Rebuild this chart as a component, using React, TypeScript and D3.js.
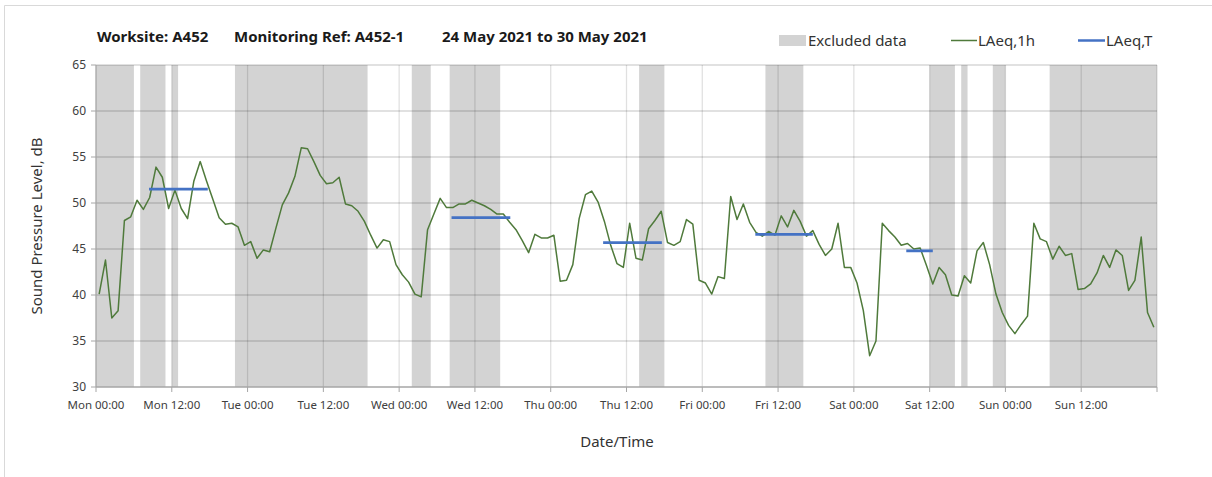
import React from 'react';
import * as d3 from 'd3';

// hourly LAeq,1h values, Mon 00:00 onwards (one per hour)
const laeq1h: number[] = [
  40.1, 43.8, 37.5, 38.3, 48.1, 48.5, 50.3, 49.3, 50.6, 53.9, 52.8, 49.4,
  51.4, 49.4, 48.3, 52.4, 54.5, 52.4, 50.4, 48.4, 47.7, 47.8, 47.4, 45.4,
  45.8, 44.0, 44.9, 44.7, 47.3, 49.8, 51.1, 52.9, 56.0, 55.9, 54.5, 53.0,
  52.1, 52.2, 52.8, 49.9, 49.7, 49.1, 48.0, 46.5, 45.1, 46.0, 45.8, 43.3,
  42.2, 41.4, 40.1, 39.8, 47.1, 48.8, 50.5, 49.5, 49.5, 49.9, 49.9, 50.3,
  50.0, 49.7, 49.3, 48.8, 48.8, 47.9, 47.1, 45.9, 44.6, 46.6, 46.2, 46.2,
  46.5, 41.5, 41.6, 43.3, 48.3, 50.9, 51.3, 50.1, 48.0, 45.4, 43.4, 43.0,
  47.8, 44.0, 43.8, 47.2, 48.1, 49.1, 45.7, 45.4, 45.8, 48.2, 47.7, 41.6,
  41.3, 40.1, 42.0, 41.8, 50.7, 48.2, 49.9, 47.9, 46.8, 46.4, 46.9, 46.5,
  48.6, 47.4, 49.2, 48.0, 46.4, 47.0, 45.5, 44.3, 45.0, 47.8, 43.0, 43.0,
  41.3, 38.3, 33.4, 35.0, 47.8, 47.0, 46.3, 45.4, 45.6, 45.0, 45.1, 43.2,
  41.2, 43.0, 42.2, 40.0, 39.9, 42.1, 41.3, 44.8, 45.7, 43.3, 40.1, 38.1,
  36.7, 35.8, 36.8, 37.7, 47.8, 46.1, 45.8, 43.9, 45.3, 44.3, 44.5, 40.6,
  40.7, 41.2, 42.4, 44.3, 43.0, 44.9, 44.3, 40.5, 41.6, 46.3, 38.1, 36.5,
];

// excluded periods, [start hour, end hour] from Mon 00:00
const excluded: [number, number][] = [
  [0, 6], [7, 11], [12, 13], [22, 43], [50, 53], [56, 64],
  [86, 90], [106, 112], [132, 136], [137, 138], [142, 144], [151, 168],
];

// LAeq,T daytime periods
const laeqTStart = [8.4, 56.3, 80.3, 104.4, 128.3];
const laeqTEnd = [17.7, 65.6, 89.6, 113.5, 132.5];
const laeqTValue = [51.5, 48.4, 45.7, 46.6, 44.8];

const dayNames = ['Mon', 'Tue', 'Wed', 'Thu', 'Fri', 'Sat', 'Sun'];
const xTickHours = d3.range(0, 169, 12);
const yTicks = [30, 35, 40, 45, 50, 55, 60, 65];

const W = 1212;
const H = 477;
const plot = { left: 96, right: 1157, top: 65, bottom: 387 };
const font = '"Noto Sans", "Open Sans", sans-serif';

const App: React.FC = () => {
  const x = d3.scaleLinear().domain([0, 168]).range([plot.left, plot.right]);
  const y = d3.scaleLinear().domain([30, 65]).range([plot.bottom, plot.top]);

  const line = d3.line<number>()
    .x((_, i) => x(i + 0.5))
    .y(d => y(d));

  const tickLabel = (h: number) => {
    if (h >= 168) return '';
    const day = dayNames[Math.floor(h / 24)];
    const hh = h % 24;
    return `${day} ${hh === 0 ? '00' : '12'}:00`;
  };

  return (
    <svg width={W} height={H} style={{ position: 'absolute', left: 0, top: 0, background: '#fff' }} fontFamily={font}>
      {/* outer chart border */}
      <line x1={4.5} x2={W} y1={5.5} y2={5.5} stroke="#d9d9d9" />
      <line x1={4.5} x2={4.5} y1={5.5} y2={H} stroke="#d9d9d9" />

      {/* title */}
      <g fontWeight="bold" fontSize={15} fill="#1a1a1a">
        <text x={97} y={42}>Worksite: A452</text>
        <text x={234} y={42}>Monitoring Ref: A452-1</text>
        <text x={442} y={42}>24 May 2021 to 30 May 2021</text>
      </g>

      {/* legend */}
      <g fontSize={15} fill="#333">
        <rect x={779} y={35} width={27} height={11} fill="#d3d3d3" />
        <text x={808} y={46}>Excluded data</text>
        <line x1={951} x2={977} y1={40.5} y2={40.5} stroke="#4f7a3b" strokeWidth={1.5} />
        <text x={978} y={46}>LAeq,1h</text>
        <line x1={1078} x2={1105} y1={40.5} y2={40.5} stroke="#4472c4" strokeWidth={2.5} />
        <text x={1106} y={46}>LAeq,T</text>
      </g>

      {/* excluded bands */}
      {excluded.map(([s, e], i) => (
        <rect key={i} x={x(s)} y={plot.top} width={x(e) - x(s)} height={plot.bottom - plot.top} fill="#d3d3d3" />
      ))}

      {/* gridlines */}
      {yTicks.filter(t => t > 30).map(t => (
        <line key={t} x1={plot.left} x2={plot.right} y1={y(t)} y2={y(t)} stroke="rgba(0,0,0,0.16)" strokeWidth={1.3} />
      ))}
      {xTickHours.filter(h => h > 0).map(h => (
        <line key={h} x1={x(h)} x2={x(h)} y1={plot.top} y2={plot.bottom} stroke="rgba(0,0,0,0.12)" strokeWidth={1.3} />
      ))}

      {/* axes */}
      <line x1={plot.left} x2={plot.right} y1={plot.bottom} y2={plot.bottom} stroke="#a6a6a6" strokeWidth={1.3} />
      <line x1={plot.left} x2={plot.left} y1={plot.top} y2={plot.bottom} stroke="#a6a6a6" strokeWidth={1.3} />
      {yTicks.map(t => (
        <g key={t}>
          <line x1={plot.left - 5} x2={plot.left} y1={y(t)} y2={y(t)} stroke="#a6a6a6" />
          <text x={86} y={y(t) + 4} textAnchor="end" fontSize={12} fill="#404040">{t}</text>
        </g>
      ))}
      {xTickHours.map(h => (
        <g key={h}>
          <line x1={x(h)} x2={x(h)} y1={plot.bottom} y2={plot.bottom + 5} stroke="#a6a6a6" />
          <text x={x(h)} y={409} textAnchor="middle" fontSize={11.5} fill="#404040">{tickLabel(h)}</text>
        </g>
      ))}

      {/* series */}
      <path d={line(laeq1h) || ''} fill="none" stroke="#4f7a3b" strokeWidth={1.5} strokeLinejoin="round" />
      {laeqTValue.map((v, i) => (
        <line key={i} x1={x(laeqTStart[i])} x2={x(laeqTEnd[i])} y1={y(v)} y2={y(v)} stroke="#4472c4" strokeWidth={2.8} />
      ))}

      {/* axis titles */}
      <text x={617} y={447} textAnchor="middle" fontSize={15} fill="#333">Date/Time</text>
      <text transform={`translate(42, ${(plot.top + plot.bottom) / 2}) rotate(-90)`} textAnchor="middle" fontSize={15} fill="#333">
        Sound Pressure Level, dB
      </text>
    </svg>
  );
};

export default App;
